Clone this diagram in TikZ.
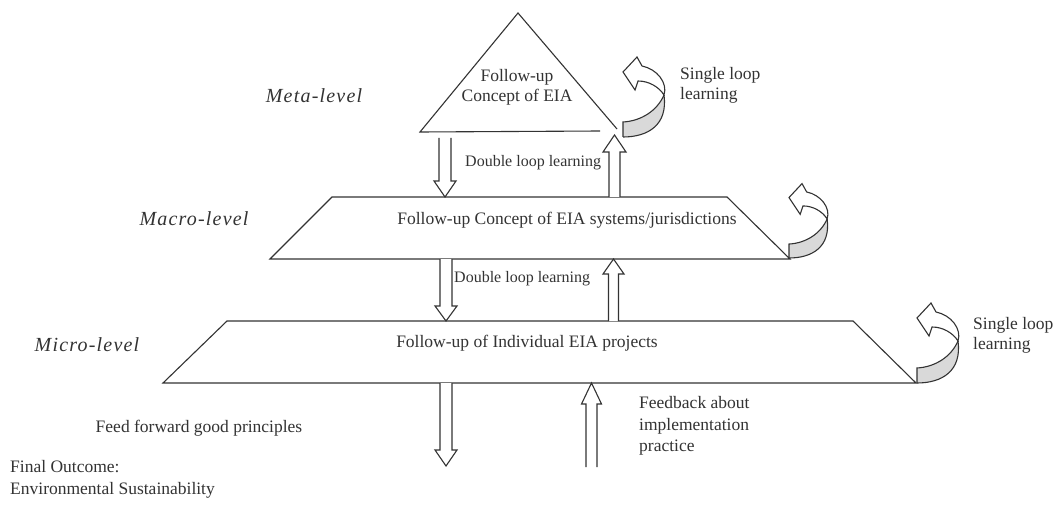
\documentclass[tikz,border=0pt]{standalone}
\usepackage{fontspec}
\setmainfont{Liberation Serif}
\usetikzlibrary{calc}

\definecolor{ink}{HTML}{333333}
\definecolor{bandgray}{HTML}{D9D9D9}

% vertical block arrow: #1 tail, #2 tip, #3 shaft half width,
% #4 head half width, #5 signed offset from the tip to the head base
\newcommand{\blockarrow}[5]{%
  \draw[arrowline] ($(#1)+(-#3,0)$) -- ($(#2)+(-#3,#5)$) -- ($(#2)+(-#4,#5)$)
    -- (#2) -- ($(#2)+(#4,#5)$) -- ($(#2)+(#3,#5)$) -- ($(#1)+(#3,0)$);}

\tikzset{
  outline/.style={draw=ink, line width=1.1pt, line join=miter},
  arrowline/.style={draw=ink, line width=1.1pt, fill=white, line join=miter},
  lbl/.style={inner sep=0pt, text=ink, font=\fontsize{17.5}{20}\selectfont},
  small/.style={inner sep=0pt, text=ink, font=\fontsize{16}{19}\selectfont},
  level/.style={inner sep=0pt, text=ink,
    font=\fontsize{20}{24}\selectfont\itshape\addfontfeature{LetterSpace=6}},
  % twisted curved arrow for single loop learning
  loop band/.pic={
    \fill[bandgray] (0,15) .. controls (18,16) and (34,26) .. (41,42)
      .. controls (45,12) and (25,0) .. (0,0) -- cycle;
    \draw[outline] (0,0) -- (0,15) .. controls (18,16) and (34,26) .. (41,42);
    \draw[outline] (0,0) .. controls (25,0) and (45,12) .. (41,42);
    \draw[outline, fill=white] (41,42) .. controls (45,54) and (34,68) .. (19,71)
      -- (14,80) -- (0,65) -- (12,47) -- (15,56)
      .. controls (26,56) and (36,50) .. (41,42) -- cycle;
  }
}

\begin{document}
\begin{tikzpicture}[x=1pt, y=1pt]
\useasboundingbox (0,0) rectangle (1057,-505);
\fill[white] (0,0) rectangle (1057,-505);

% ---- meta level: triangle ----
\coordinate (apex) at (518,-13);
\coordinate (triL) at (420,-132);
\coordinate (triR) at (617,-129);
\coordinate (triB) at (600,-131);
\draw[outline] (triR) -- (apex) -- (triL) -- (triB);
\node[lbl, align=center] (metatext) at (517,-87) {Follow-up\\Concept of EIA};
\node[level] (metalevel) at (314,-96) {Meta-level};

% ---- macro level: trapezoid ----
\coordinate (maTL) at (332,-197);
\coordinate (maTR) at (727,-197);
\coordinate (maBR) at (790,-259);
\coordinate (maBL) at (270,-259);
\draw[outline] (maTL) -- (maTR) -- (maBR) -- (maBL) -- cycle;
\node[lbl] (macrotext) at (567,-220) {Follow-up Concept of EIA systems/jurisdictions};
\node[level] (macrolevel) at (194,-219) {Macro-level};

% ---- micro level: trapezoid ----
\coordinate (miTL) at (227,-321);
\coordinate (miTR) at (853,-321);
\coordinate (miBR) at (916,-383);
\coordinate (miBL) at (163,-383);
\draw[outline] (miTL) -- (miTR) -- (miBR) -- (miBL) -- cycle;
\node[lbl] (microtext) at (527,-343) {Follow-up of Individual EIA projects};
\node[level] (microlevel) at (87,-345) {Micro-level};

% ---- double loop arrows between levels ----
\coordinate (d1a) at (445,-138);
\coordinate (d1b) at (445,-197);
\blockarrow{d1a}{d1b}{6}{11}{16}
\coordinate (u1a) at (614.5,-197);
\coordinate (u1b) at (614.5,-135);
\blockarrow{u1a}{u1b}{5.5}{11.5}{-17}
\node[small, anchor=west] (dl1) at (465,-163) {Double loop learning};

\coordinate (d2a) at (446,-259);
\coordinate (d2b) at (446,-321);
\blockarrow{d2a}{d2b}{6}{11}{15}
\coordinate (u2a) at (613.5,-321);
\coordinate (u2b) at (613.5,-259);
\blockarrow{u2a}{u2b}{5}{10.5}{-15}
\node[small, anchor=west] (dl2) at (454,-279) {Double loop learning};

% ---- single loop arrows ----
\pic at (623,-137) {loop band};
\pic[scale=0.93] at (789,-258) {loop band};
\pic at (917,-383) {loop band};
\node[lbl, anchor=west, align=left] (sl1) at (680,-85) {Single loop\\learning};
\node[lbl, anchor=west, align=left] (sl3) at (973,-335) {Single loop\\learning};

% ---- feed forward / feedback ----
\coordinate (d3a) at (446,-383);
\coordinate (d3b) at (446,-466);
\blockarrow{d3a}{d3b}{6}{11}{16}
\coordinate (u3a) at (591.5,-467);
\coordinate (u3b) at (591.5,-383);
\blockarrow{u3a}{u3b}{5.5}{10}{-21}
\node[lbl] (ff) at (199,-428) {Feed forward good principles};
\node[lbl, anchor=west, align=left, font=\fontsize{17.5}{21.5}\selectfont]
  (fb) at (639,-426) {Feedback about\\implementation\\practice};
\node[lbl, anchor=west, align=left, font=\fontsize{17.5}{22}\selectfont]
  (outcome) at (10,-479) {Final Outcome:\\Environmental Sustainability};
\end{tikzpicture}
\end{document}
